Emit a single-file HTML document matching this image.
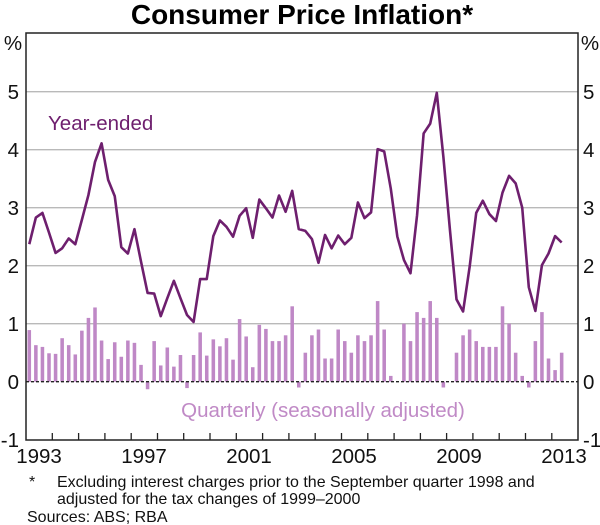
<!DOCTYPE html>
<html><head><meta charset="utf-8"><style>
html,body{margin:0;padding:0;background:#fff}
svg{display:block;font-family:"Liberation Sans",Arial,sans-serif}
</style></head><body>
<svg width="600" height="525" viewBox="0 0 600 525" xmlns="http://www.w3.org/2000/svg">
<text x="302" y="24" font-size="28" font-weight="bold" text-anchor="middle" fill="#000">Consumer Price Inflation*</text>
<g stroke="#b9b9b9" stroke-width="1.3">
<line x1="26" x2="578" y1="91.7" y2="91.7"/>
<line x1="26" x2="578" y1="149.7" y2="149.7"/>
<line x1="26" x2="578" y1="207.7" y2="207.7"/>
<line x1="26" x2="578" y1="265.7" y2="265.7"/>
<line x1="26" x2="578" y1="323.7" y2="323.7"/>
</g>
<g transform="translate(26,381.7) scale(6.5725,-58)" fill="#bf88c6">
<rect x="0.23" width="0.54" y="0" height="0.89"/><rect x="1.23" width="0.54" y="0" height="0.63"/><rect x="2.23" width="0.54" y="0" height="0.60"/><rect x="3.23" width="0.54" y="0" height="0.49"/>
<rect x="4.23" width="0.54" y="0" height="0.48"/><rect x="5.23" width="0.54" y="0" height="0.75"/><rect x="6.23" width="0.54" y="0" height="0.63"/><rect x="7.23" width="0.54" y="0" height="0.47"/>
<rect x="8.23" width="0.54" y="0" height="0.88"/><rect x="9.23" width="0.54" y="0" height="1.10"/><rect x="10.23" width="0.54" y="0" height="1.28"/><rect x="11.23" width="0.54" y="0" height="0.71"/>
<rect x="12.23" width="0.54" y="0" height="0.39"/><rect x="13.23" width="0.54" y="0" height="0.68"/><rect x="14.23" width="0.54" y="0" height="0.43"/><rect x="15.23" width="0.54" y="0" height="0.71"/>
<rect x="16.23" width="0.54" y="0" height="0.67"/><rect x="17.23" width="0.54" y="0" height="0.29"/><rect x="18.23" width="0.54" y="-0.13" height="0.13"/><rect x="19.23" width="0.54" y="0" height="0.70"/>
<rect x="20.23" width="0.54" y="0" height="0.28"/><rect x="21.23" width="0.54" y="0" height="0.59"/><rect x="22.23" width="0.54" y="0" height="0.26"/><rect x="23.23" width="0.54" y="0" height="0.46"/>
<rect x="24.23" width="0.54" y="-0.11" height="0.11"/><rect x="25.23" width="0.54" y="0" height="0.46"/><rect x="26.23" width="0.54" y="0" height="0.85"/><rect x="27.23" width="0.54" y="0" height="0.45"/>
<rect x="28.23" width="0.54" y="0" height="0.73"/><rect x="29.23" width="0.54" y="0" height="0.61"/><rect x="30.23" width="0.54" y="0" height="0.75"/><rect x="31.23" width="0.54" y="0" height="0.38"/>
<rect x="32.23" width="0.54" y="0" height="1.08"/><rect x="33.23" width="0.54" y="0" height="0.78"/><rect x="34.23" width="0.54" y="0" height="0.25"/><rect x="35.23" width="0.54" y="0" height="0.98"/>
<rect x="36.23" width="0.54" y="0" height="0.91"/><rect x="37.23" width="0.54" y="0" height="0.70"/><rect x="38.23" width="0.54" y="0" height="0.70"/><rect x="39.23" width="0.54" y="0" height="0.80"/>
<rect x="40.23" width="0.54" y="0" height="1.30"/><rect x="41.23" width="0.54" y="-0.1" height="0.1"/><rect x="42.23" width="0.54" y="0" height="0.5"/><rect x="43.23" width="0.54" y="0" height="0.8"/>
<rect x="44.23" width="0.54" y="0" height="0.9"/><rect x="45.23" width="0.54" y="0" height="0.4"/><rect x="46.23" width="0.54" y="0" height="0.4"/><rect x="47.23" width="0.54" y="0" height="0.9"/>
<rect x="48.23" width="0.54" y="0" height="0.7"/><rect x="49.23" width="0.54" y="0" height="0.5"/><rect x="50.23" width="0.54" y="0" height="0.8"/><rect x="51.23" width="0.54" y="0" height="0.7"/>
<rect x="52.23" width="0.54" y="0" height="0.8"/><rect x="53.23" width="0.54" y="0" height="1.39"/><rect x="54.23" width="0.54" y="0" height="0.9"/><rect x="55.23" width="0.54" y="0" height="0.1"/>
<rect x="57.23" width="0.54" y="0" height="1.0"/><rect x="58.23" width="0.54" y="0" height="0.7"/><rect x="59.23" width="0.54" y="0" height="1.2"/>
<rect x="60.23" width="0.54" y="0" height="1.1"/><rect x="61.23" width="0.54" y="0" height="1.39"/><rect x="62.23" width="0.54" y="0" height="1.1"/><rect x="63.23" width="0.54" y="-0.1" height="0.1"/>
<rect x="65.23" width="0.54" y="0" height="0.5"/><rect x="66.23" width="0.54" y="0" height="0.8"/><rect x="67.23" width="0.54" y="0" height="0.9"/>
<rect x="68.23" width="0.54" y="0" height="0.7"/><rect x="69.23" width="0.54" y="0" height="0.6"/><rect x="70.23" width="0.54" y="0" height="0.6"/><rect x="71.23" width="0.54" y="0" height="0.6"/>
<rect x="72.23" width="0.54" y="0" height="1.3"/><rect x="73.23" width="0.54" y="0" height="1.0"/><rect x="74.23" width="0.54" y="0" height="0.5"/><rect x="75.23" width="0.54" y="0" height="0.1"/>
<rect x="76.23" width="0.54" y="-0.1" height="0.1"/><rect x="77.23" width="0.54" y="0" height="0.7"/><rect x="78.23" width="0.54" y="0" height="1.2"/><rect x="79.23" width="0.54" y="0" height="0.4"/>
<rect x="80.23" width="0.54" y="0" height="0.2"/><rect x="81.23" width="0.54" y="0" height="0.5"/>
</g>
<line x1="26" x2="578" y1="381.7" y2="381.7" stroke="#222" stroke-width="1.3" stroke-dasharray="3,2"/>
<g transform="translate(26,381.7) scale(6.5725,-58)">
<polyline fill="none" stroke="#6e1f6e" stroke-width="2.6" vector-effect="non-scaling-stroke" stroke-linejoin="round" points="
0.5,2.37 1.5,2.83 2.5,2.91 3.5,2.57 4.5,2.22 5.5,2.30 6.5,2.47 7.5,2.37 8.5,2.79 9.5,3.22 10.5,3.79 11.5,4.11
12.5,3.48 13.5,3.20 14.5,2.32 15.5,2.21 16.5,2.63 17.5,2.07 18.5,1.53 19.5,1.52 20.5,1.13 21.5,1.44 22.5,1.74 23.5,1.44
24.5,1.15 25.5,1.03 26.5,1.77 27.5,1.77 28.5,2.51 29.5,2.78 30.5,2.67 31.5,2.50 32.5,2.86 33.5,2.99 34.5,2.48 35.5,3.14
36.5,2.99 37.5,2.83 38.5,3.21 39.5,2.93 40.5,3.29 41.5,2.63 42.5,2.60 43.5,2.46 44.5,2.05 45.5,2.53 46.5,2.30 47.5,2.52
48.5,2.37 49.5,2.48 50.5,3.09 51.5,2.82 52.5,2.92 53.5,4.01 54.5,3.97 55.5,3.33 56.5,2.50 57.5,2.10 58.5,1.87 59.5,2.87
60.5,4.28 61.5,4.45 62.5,4.98 63.5,3.88 64.5,2.62 65.5,1.42 66.5,1.21 67.5,1.98 68.5,2.91 69.5,3.12 70.5,2.89 71.5,2.77
72.5,3.26 73.5,3.55 74.5,3.42 75.5,3.0 76.5,1.63 77.5,1.22 78.5,2.01 79.5,2.21 80.5,2.51 81.5,2.40"/>
</g>
<rect x="26" y="33" width="552" height="407" fill="none" stroke="#222" stroke-width="1.5"/>
<g stroke="#222" stroke-width="1.3">
<line x1="52.3" x2="52.3" y1="440" y2="433"/><line x1="78.6" x2="78.6" y1="440" y2="433"/><line x1="104.9" x2="104.9" y1="440" y2="433"/><line x1="131.2" x2="131.2" y1="440" y2="433"/><line x1="157.5" x2="157.5" y1="440" y2="433"/><line x1="183.7" x2="183.7" y1="440" y2="433"/><line x1="210" x2="210" y1="440" y2="433"/><line x1="236.3" x2="236.3" y1="440" y2="433"/><line x1="262.6" x2="262.6" y1="440" y2="433"/><line x1="288.9" x2="288.9" y1="440" y2="433"/><line x1="315.2" x2="315.2" y1="440" y2="433"/><line x1="341.5" x2="341.5" y1="440" y2="433"/><line x1="367.8" x2="367.8" y1="440" y2="433"/><line x1="394.1" x2="394.1" y1="440" y2="433"/><line x1="420.4" x2="420.4" y1="440" y2="433"/><line x1="446.6" x2="446.6" y1="440" y2="433"/><line x1="472.9" x2="472.9" y1="440" y2="433"/><line x1="499.2" x2="499.2" y1="440" y2="433"/><line x1="525.5" x2="525.5" y1="440" y2="433"/><line x1="551.8" x2="551.8" y1="440" y2="433"/>
</g>
<g font-size="20.5" fill="#111">
<text x="13" y="50" text-anchor="middle">%</text>
<text x="590" y="50" text-anchor="middle">%</text>
<g text-anchor="end">
<text x="19" y="99">5</text><text x="19" y="157">4</text><text x="19" y="215">3</text><text x="19" y="273">2</text><text x="19" y="331">1</text><text x="19" y="389">0</text><text x="19" y="447">-1</text>
</g>
<g text-anchor="start">
<text x="583" y="99">5</text><text x="583" y="157">4</text><text x="583" y="215">3</text><text x="583" y="273">2</text><text x="583" y="331">1</text><text x="583" y="389">0</text><text x="583" y="447">-1</text>
</g>
<g text-anchor="middle">
<text x="39" y="463">1993</text><text x="144" y="463">1997</text><text x="249" y="463">2001</text><text x="354" y="463">2005</text><text x="459" y="463">2009</text><text x="564" y="463">2013</text>
</g>
</g>
<text x="48" y="130" font-size="20.5" fill="#6e1f6e">Year-ended</text>
<text x="323" y="417" font-size="20.5" fill="#c08ac6" text-anchor="middle">Quarterly (seasonally adjusted)</text>
<g font-size="16" fill="#111">
<text x="29" y="487">*</text>
<text x="57" y="487">Excluding interest charges prior to the September quarter 1998 and</text>
<text x="57" y="504">adjusted for the tax changes of 1999–2000</text>
<text x="27" y="522">Sources: ABS; RBA</text>
</g>
</svg>
</body></html>
